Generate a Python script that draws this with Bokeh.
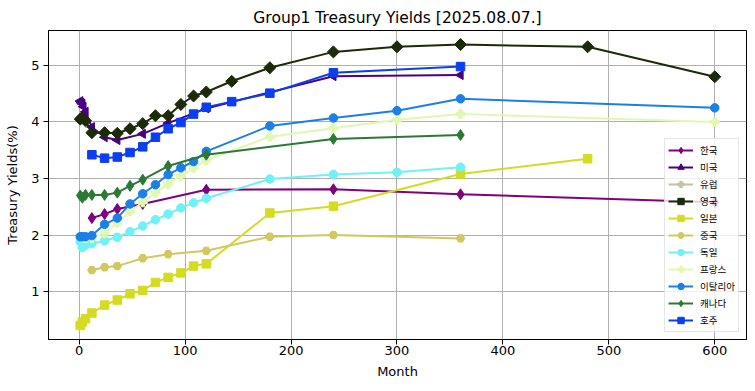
import math
from bokeh.plotting import figure
from bokeh.models import Range1d, FixedTicker, Legend, LegendItem
from bokeh.embed import file_html
from bokeh.resources import INLINE

# ---- data (months, yields %) ----
months_kr = [12, 24, 36, 60, 120, 240, 360, 600]
yield_kr = [2.30, 2.37, 2.46, 2.55, 2.80, 2.81, 2.72, 2.58]

months_us = [1, 2, 3, 4, 6, 12, 24, 36, 60, 84, 120, 240, 360]
yield_us = [4.37, 4.34, 4.32, 4.27, 4.18, 3.91, 3.73, 3.68, 3.79, 3.98, 4.24, 4.81, 4.83]

months_eu = []
yield_eu = []

months_uk = [1, 3, 6, 12, 24, 36, 48, 60, 72, 84, 96, 108, 120, 144, 180, 240, 300, 360, 480, 600]
yield_uk = [4.05, 4.08, 4.02, 3.81, 3.81, 3.80, 3.88, 3.97, 4.11, 4.11, 4.31, 4.46, 4.53, 4.72, 4.96, 5.24, 5.33, 5.37, 5.33, 4.80]

months_jp = [1, 3, 6, 12, 24, 36, 48, 60, 72, 84, 96, 108, 120, 180, 240, 360, 480]
yield_jp = [0.40, 0.46, 0.52, 0.62, 0.76, 0.85, 0.96, 1.02, 1.16, 1.25, 1.33, 1.45, 1.49, 2.39, 2.51, 3.08, 3.35]

months_cn = [12, 24, 36, 60, 84, 120, 180, 240, 360]
yield_cn = [1.38, 1.43, 1.45, 1.59, 1.66, 1.72, 1.97, 2.00, 1.94]

months_de = [1, 3, 6, 12, 24, 36, 48, 60, 72, 84, 96, 108, 120, 180, 240, 300, 360]
yield_de = [1.88, 1.78, 1.82, 1.85, 1.90, 1.96, 2.06, 2.16, 2.27, 2.37, 2.48, 2.57, 2.65, 2.99, 3.07, 3.11, 3.20]

months_fr = [3, 6, 12, 24, 36, 48, 60, 72, 84, 96, 108, 120, 180, 240, 300, 360, 600]
yield_fr = [1.96, 1.95, 1.95, 2.03, 2.22, 2.42, 2.58, 2.75, 2.90, 3.05, 3.19, 3.32, 3.74, 3.89, 4.04, 4.14, 4.00]

months_it = [1, 3, 6, 12, 24, 36, 48, 60, 72, 84, 96, 108, 120, 180, 240, 300, 360, 600]
yield_it = [1.97, 1.97, 1.97, 1.99, 2.19, 2.30, 2.55, 2.73, 2.89, 3.07, 3.19, 3.30, 3.48, 3.93, 4.07, 4.20, 4.41, 4.25]

months_ca = [1, 3, 6, 12, 24, 36, 48, 60, 84, 120, 240, 360]
yield_ca = [2.70, 2.66, 2.71, 2.71, 2.71, 2.75, 2.87, 2.98, 3.22, 3.42, 3.70, 3.77]

months_au = [12, 24, 36, 48, 60, 72, 84, 96, 108, 120, 144, 180, 240, 360]
yield_au = [3.42, 3.36, 3.38, 3.46, 3.56, 3.73, 3.88, 3.99, 4.14, 4.26, 4.36, 4.51, 4.87, 4.98]

names = ["한국", "미국", "유럽", "영국", "일본", "중국", "독일", "프랑스", "이탈리아", "캐나다", "호주"]
x_ticks = [0, 100, 200, 300, 400, 500, 600]
y_ticks = [1, 2, 3, 4, 5]

series = [
    (months_kr, yield_kr), (months_us, yield_us), (months_eu, yield_eu),
    (months_uk, yield_uk), (months_jp, yield_jp), (months_cn, yield_cn),
    (months_de, yield_de), (months_fr, yield_fr), (months_it, yield_it),
    (months_ca, yield_ca), (months_au, yield_au),
]

# ---- styles ----
styles = [
    dict(color="#800080", marker="diamond", size=11, angle=0),
    dict(color="#4b0082", marker="triangle", size=9, angle=math.pi / 2),
    dict(color="#c4c1a4", marker="plus", size=9, angle=0),
    dict(color="#1b2a08", marker="square", size=8.5, angle=math.pi / 4),
    dict(color="#d4dc22", marker="square", size=8.5, angle=0),
    dict(color="#d2c860", marker="hex", size=8.5, angle=0),
    dict(color="#6ef2f6", marker="circle", size=8.5, angle=0),
    dict(color="#e2f8b0", marker="plus", size=9, angle=0),
    dict(color="#1a80e8", marker="circle", size=8.5, angle=0),
    dict(color="#2a7a33", marker="diamond", size=11, angle=0),
    dict(color="#0a3ef0", marker="square", size=8.5, angle=0),
]

all_x = [v for s in series for v in s[0]]
all_y = [v for s in series for v in s[1]]
xpad = (max(all_x) - min(all_x)) * 0.05
ypad = (max(all_y) - min(all_y)) * 0.05

p = figure(width=755, height=391, output_backend="svg", toolbar_location=None,
           x_range=Range1d(min(all_x) - xpad, max(all_x) + xpad),
           y_range=Range1d(min(all_y) - ypad, max(all_y) + ypad),
           min_border_left=48, min_border_right=9, min_border_top=30, min_border_bottom=52)

p.title.text = "Group1 Treasury Yields [2025.08.07.]"
p.title.align = "center"
p.title.text_font = "DejaVu Sans"
p.title.text_font_size = "15.5px"
p.title.text_font_style = "normal"
p.title.text_color = "black"
p.title.standoff = 8

p.outline_line_color = "black"
p.outline_line_width = 1
p.outline_line_alpha = 1

for ax in (p.xaxis[0], p.yaxis[0]):
    ax.axis_line_color = "black"
    ax.major_tick_line_color = "black"
    ax.major_tick_out = 5
    ax.major_tick_in = 0
    ax.minor_tick_line_color = None
    ax.major_label_text_font = "DejaVu Sans"
    ax.major_label_text_font_size = "13px"
    ax.major_label_text_color = "black"
    ax.axis_label_text_font = "DejaVu Sans"
    ax.axis_label_text_font_size = "13px"
    ax.axis_label_text_font_style = "normal"
    ax.axis_label_text_color = "black"

p.xaxis.major_label_standoff = 1
p.xaxis.axis_label_standoff = 6
p.yaxis.major_label_standoff = 4
p.yaxis.axis_label_standoff = 8

p.xaxis.ticker = FixedTicker(ticks=x_ticks)
p.yaxis.ticker = FixedTicker(ticks=y_ticks)
p.xaxis.axis_label = "Month"
p.yaxis.axis_label = "Treasury Yields(%)"

p.xgrid.ticker = FixedTicker(ticks=x_ticks)
p.ygrid.ticker = FixedTicker(ticks=y_ticks)
for g in (p.xgrid[0], p.ygrid[0]):
    g.grid_line_color = "#b0b0b0"
    g.grid_line_width = 1

items = []
for name, (xs, ys), st in zip(names, series, styles):
    if len(xs) == 0:
        # series without values: keep a legend entry only
        xs, ys = [float("nan")], [float("nan")]
    ln = p.line(xs, ys, line_color=st["color"], line_width=2)
    sc = p.scatter(xs, ys, marker=st["marker"], size=st["size"], angle=st["angle"],
                   fill_color=st["color"], line_color=st["color"], line_width=1)
    items.append(LegendItem(label=name, renderers=[ln, sc]))

legend = Legend(items=items, location="bottom_right")
legend.margin = 7
legend.padding = 3
legend.spacing = 1
legend.glyph_height = 16
legend.glyph_width = 25
legend.label_height = 16
legend.label_standoff = 7
legend.label_text_font = "Noto Sans CJK KR"
legend.label_text_font_size = "9.5px"
legend.label_text_color = "black"
legend.border_line_color = "#cccccc"
legend.border_line_width = 1
legend.background_fill_color = "white"
legend.background_fill_alpha = 0.8
p.add_layout(legend, "center")

open("out.html", "w").write(file_html(p, INLINE))
